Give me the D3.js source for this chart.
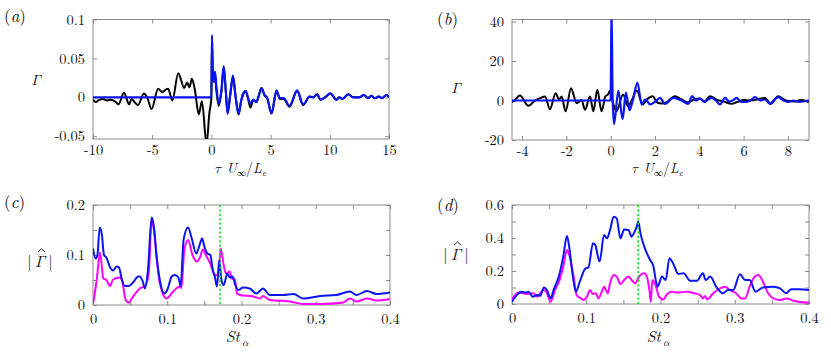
<!DOCTYPE html>
<html><head><meta charset="utf-8">
<script src="https://cdn.jsdelivr.net/npm/d3@7"></script>
<style>
html,body{margin:0;padding:0;background:#fff;}
svg{display:block;}
text{font-family:"Latin Modern Roman","Latin Modern Math","Liberation Serif",serif;fill:#111;}
</style></head>
<body>
<svg id="chart" width="831" height="358"></svg>
<script>
// ---------------- DATA ----------------
// Panel (a): correlation vs tau U/L
const aTauBlack = [-10,-9.75,-9.55,-9.2,-8.8,-8.5,-8.07,-7.85,-7.38,-6.95,-6.75,-6.5,-6.2,-5.7,-5.4,-5.05,-4.5,-4.15,-3.85,-3.65,-3.3,-2.8,-2.3,-2.05,-1.85,-1.65,-1.4,-1.07,-0.8,-0.41,-0.17,
  0,0.05,0.12,0.22,0.3,0.4,0.62,0.85,1.04,1.2,1.37,1.6,1.82,2.05,2.3,2.5,2.69,2.9,3.1,3.3,3.53,3.8,4.0,4.23,4.5,4.7,5.08,5.5,5.78,6.1,6.6,7.24,7.75,8.3,8.6,8.93,9.2,9.6,10.05,10.56,10.8,11.07,11.55,11.97,12.5,12.87,13.24,13.5,13.8,14.16,14.4,14.78,15];
const aBlack = [-0.003,-0.006,-0.004,-0.002,-0.004,-0.003,-0.006,-0.009,0.006,-0.009,-0.002,-0.006,-0.010,0.005,-0.001,-0.015,0.011,0.007,0.010,0.011,-0.004,0.031,0.012,0.019,0.013,0.024,0.010,-0.022,-0.005,-0.060,-0.020,
  0.0,0.070,0.030,0.020,0.030,0.012,-0.011,0.008,0.038,0.011,-0.020,0.004,0.026,0.000,-0.022,-0.006,0.004,0.008,-0.002,-0.013,-0.004,-0.006,0.002,0.012,0.002,-0.001,-0.020,0.008,-0.002,-0.002,-0.012,0.008,-0.010,0.001,0.000,0.004,-0.003,0.000,0.005,-0.003,0.000,-0.002,0.004,0.000,0.000,0.003,-0.001,0.002,-0.001,0.001,-0.001,0.003,0.000];
const aTauBlue = [-10,0,0.05,0.12,0.22,0.3,0.4,0.62,0.85,1.04,1.2,1.37,1.6,1.82,2.05,2.3,2.5,2.69,2.9,3.1,3.3,3.53,3.8,4.0,4.23,4.5,4.7,5.08,5.5,5.78,6.1,6.6,7.24,7.75,8.3,8.6,8.93,9.2,9.6,10.05,10.56,10.8,11.07,11.55,11.97,12.5,12.87,13.24,13.5,13.8,14.16,14.4,14.78,15];
const aBlue = [0,0,0.080,0.030,0.020,0.033,0.018,-0.008,0.010,0.040,0.012,-0.021,0.005,0.028,0.000,-0.021,-0.005,0.005,0.008,-0.001,-0.008,-0.003,-0.006,0.002,0.012,0.003,0.000,-0.021,0.009,-0.001,-0.001,-0.011,0.009,-0.009,0.001,0.000,0.004,-0.003,0.000,0.005,-0.003,0.000,-0.002,0.004,0.000,0.000,0.003,-0.001,0.002,-0.001,0.001,-0.001,0.003,0.000];

// Panel (b)
const bTauBlack = [-4.45,-4.39,-4.09,-3.71,-3.41,-3.18,-2.96,-2.74,-2.48,-2.32,-2.21,-2.03,-1.79,-1.53,-1.31,-1.16,-0.93,-0.78,-0.6,-0.41,-0.24,-0.11,-0.03,0.1,0.26,0.56,0.79,0.95,1.18,1.45,1.63,1.9,2.1,2.3,2.5,2.9,3.2,3.5,3.75,4.03,4.23,4.48,4.8,5.1,5.46,5.7,6.0,6.3,6.96,7.23,7.56,7.9,8.3,8.6,8.95];
const bBlack = [-0.8,-0.5,2.5,-2.7,0,1.2,2.0,-4.4,3.7,0.5,2,-5.5,6.2,-1.3,0.3,-4.7,2,-5.5,5.4,-5.5,2,3.2,5,-1,-5.5,3,-3,0,5,-2,0.5,2.2,-1,-1.5,-1.0,2.2,0.5,-1.0,0.5,1.0,-0.5,2.2,0.3,-0.5,-1.7,-0.8,0.2,0.0,1.3,-1.7,2.2,0,-0.5,0.3,-0.8];
const bTauBlue = [-4.45,0,0.04,0.09,0.15,0.35,0.54,0.69,0.85,1.0,1.21,1.40,1.55,1.63,1.78,2.0,2.23,2.45,2.83,3.2,3.5,3.68,3.85,4.03,4.23,4.4,4.56,4.75,4.93,5.16,5.35,5.5,5.68,5.88,6.1,6.3,6.51,6.75,6.96,7.19,7.35,7.56,7.8,8.0,8.25,8.5,8.7,8.95];
const bBlue = [0,0,48,2,-12,5,-9.5,4,-5,0,9,-2,0.5,0,-2,-0.7,1.3,-1.7,1.3,0,-1.7,2.2,0,1.0,-0.7,0.5,1.3,0,-2,1.3,-0.5,0,1.3,-0.7,-0.7,0,1.7,0,0.5,-1.7,0,1.7,0,-0.7,0,-0.7,-0.5,0];

// Panel (c): spectra
const cStBlue = [0,0.0036,0.006,0.009,0.012,0.0148,0.018,0.023,0.027,0.032,0.035,0.039,0.043,0.048,0.054,0.061,0.063,0.067,0.070,0.074,0.079,0.082,0.086,0.090,0.096,0.100,0.106,0.110,0.115,0.118,0.122,0.128,0.133,0.139,0.143,0.147,0.150,0.154,0.158,0.161,0.164,0.167,0.170,0.173,0.176,0.181,0.184,0.188,0.191,0.196,0.202,0.211,0.220,0.229,0.238,0.256,0.270,0.283,0.306,0.328,0.346,0.355,0.369,0.382,0.400];
const cBlue = [0.113,0.093,0.100,0.155,0.140,0.100,0.095,0.075,0.069,0.077,0.075,0.050,0.038,0.038,0.045,0.057,0.057,0.047,0.033,0.070,0.175,0.157,0.093,0.050,0.023,0.030,0.057,0.060,0.055,0.038,0.130,0.155,0.133,0.103,0.117,0.133,0.117,0.103,0.100,0.073,0.057,0.037,0.090,0.050,0.040,0.063,0.055,0.057,0.043,0.030,0.035,0.033,0.023,0.033,0.020,0.020,0.022,0.013,0.018,0.020,0.027,0.020,0.028,0.022,0.025];
const cStMag = [0,0.005,0.0094,0.014,0.018,0.023,0.027,0.036,0.039,0.044,0.048,0.054,0.063,0.070,0.075,0.079,0.082,0.086,0.090,0.099,0.108,0.117,0.119,0.123,0.128,0.134,0.140,0.144,0.148,0.152,0.158,0.164,0.169,0.172,0.176,0.179,0.184,0.187,0.191,0.194,0.198,0.216,0.225,0.229,0.238,0.265,0.283,0.306,0.337,0.346,0.355,0.369,0.382,0.400];
const cMag = [0.002,0.050,0.105,0.053,0.050,0.038,0.051,0.055,0.050,0.010,0.005,0.017,0.033,0.038,0.063,0.171,0.150,0.090,0.043,0.013,0.027,0.037,0.034,0.110,0.130,0.100,0.087,0.095,0.111,0.100,0.083,0.060,0.060,0.113,0.080,0.063,0.067,0.053,0.051,0.023,0.020,0.017,0.013,0.018,0.010,0.007,0.002,0.002,0.005,0.013,0.007,0.013,0.009,0.012];
const cStMark = 0.171;

// Panel (d)
const dStBlue = [0,0.0067,0.013,0.018,0.022,0.028,0.034,0.038,0.043,0.047,0.052,0.056,0.063,0.069,0.074,0.077,0.082,0.086,0.092,0.099,0.103,0.109,0.112,0.118,0.124,0.128,0.132,0.137,0.141,0.146,0.151,0.157,0.161,0.164,0.168,0.170,0.173,0.179,0.186,0.190,0.196,0.202,0.207,0.212,0.217,0.224,0.231,0.240,0.249,0.257,0.261,0.267,0.275,0.284,0.291,0.298,0.307,0.314,0.320,0.328,0.338,0.352,0.361,0.369,0.376,0.387,0.400];
const dBlue = [0.014,0.055,0.075,0.068,0.075,0.044,0.055,0.050,0.100,0.085,0.034,0.085,0.166,0.287,0.412,0.347,0.166,0.075,0.145,0.216,0.222,0.368,0.358,0.257,0.418,0.398,0.448,0.529,0.519,0.398,0.452,0.448,0.408,0.428,0.469,0.500,0.428,0.337,0.267,0.236,0.105,0.166,0.145,0.277,0.246,0.182,0.186,0.141,0.141,0.186,0.145,0.166,0.105,0.065,0.085,0.085,0.180,0.145,0.145,0.075,0.100,0.105,0.095,0.065,0.089,0.089,0.085];
const dStMag = [0,0.009,0.020,0.029,0.034,0.042,0.046,0.052,0.058,0.064,0.069,0.074,0.077,0.083,0.087,0.093,0.096,0.101,0.105,0.109,0.113,0.116,0.121,0.124,0.129,0.132,0.137,0.141,0.146,0.151,0.157,0.161,0.166,0.170,0.173,0.178,0.182,0.185,0.187,0.189,0.194,0.198,0.204,0.208,0.215,0.222,0.235,0.246,0.253,0.257,0.260,0.263,0.271,0.280,0.287,0.293,0.302,0.309,0.314,0.320,0.327,0.332,0.338,0.345,0.352,0.361,0.370,0.379,0.400];
const dMag = [0.028,0.069,0.061,0.065,0.044,0.085,0.075,0.014,0.085,0.145,0.226,0.327,0.297,0.166,0.055,0.034,0.024,0.044,0.085,0.060,0.065,0.034,0.075,0.105,0.065,0.125,0.176,0.166,0.121,0.145,0.166,0.145,0.125,0.156,0.176,0.186,0.160,0.085,0.014,0.145,0.105,0.044,0.028,0.055,0.075,0.069,0.075,0.065,0.055,0.034,0.048,0.028,0.065,0.095,0.105,0.085,0.065,0.034,0.034,0.105,0.166,0.176,0.135,0.065,0.034,0.024,0.034,0.020,0.008];
const dStMark = 0.170;

// Tick values and labels
const aXTicks = [-10,-5,0,5,10,15];
const aXLabels = ["-10","-5","0","5","10","15"];
const aYTicks = [-0.05,0,0.05,0.1];
const aYLabels = ["-0.05","0","0.05","0.1"];
const bXTicks = [-4,-2,0,2,4,6,8];
const bXLabels = ["-4","-2","0","2","4","6","8"];
const bYTicks = [-20,0,20,40];
const bYLabels = ["-20","0","20","40"];
const spXTicks = [0,0.05,0.1,0.15,0.2,0.25,0.3,0.35,0.4];
const spXLabels = ["0","","0.1","","0.2","","0.3","","0.4"];
const cYTicks = [0,0.05,0.1,0.15,0.2];
const cYLabels = ["0","","0.1","","0.2"];
const dYTicks = [0,0.1,0.2,0.3,0.4,0.5,0.6];
const dYLabels = ["0","","0.2","","0.4","","0.6"];

// ---------------- DRAWING ----------------
const svg = d3.select("#chart");
const AXIS = "#8a8a8a";
const FS = 14.5;
const FONT = '"Latin Modern Roman","Latin Modern Math","Liberation Serif",serif';

function panel(cfg){
  const x = d3.scaleLinear().domain(cfg.xd).range([cfg.l, cfg.r]);
  const y = d3.scaleLinear().domain(cfg.yd).range([cfg.b, cfg.t]);
  const g = svg.append("g");
  const id = "clip" + cfg.name;
  svg.append("clipPath").attr("id", id).append("rect")
    .attr("x", cfg.l).attr("y", cfg.t).attr("width", cfg.r - cfg.l).attr("height", cfg.b - cfg.t);

  const mk = (axis, tr) => {
    const a = g.append("g").attr("transform", tr).call(axis);
    a.select(".domain").remove();
    a.selectAll(".tick line").attr("stroke", AXIS).attr("stroke-width", 1);
    a.selectAll(".tick text").attr("font-size", FS).attr("fill", "#111").style("font-family", FONT);
    a.selectAll(".tick text").filter(function(){ return this.textContent === ""; }).remove();
    return a;
  };
  const fx = (d,i) => cfg.xLab[i];
  const fy = (d,i) => cfg.yLab[i];
  mk(d3.axisBottom(x).tickValues(cfg.xt).tickSizeInner(-4).tickSizeOuter(0).tickPadding(cfg.xpad).tickFormat(fx), `translate(0,${cfg.b})`);
  mk(d3.axisTop(x).tickValues(cfg.xt).tickSizeInner(-4).tickSizeOuter(0).tickFormat(""), `translate(0,${cfg.t})`);
  mk(d3.axisLeft(y).tickValues(cfg.yt).tickSizeInner(-4).tickSizeOuter(0).tickPadding(8).tickFormat(fy), `translate(${cfg.l},0)`);
  mk(d3.axisRight(y).tickValues(cfg.yt).tickSizeInner(-4).tickSizeOuter(0).tickFormat(""), `translate(${cfg.r},0)`);

  const plot = svg.append("g").attr("clip-path", `url(#${id})`);
  const line = d3.line().x(d => x(d[0])).y(d => y(d[1])).curve(d3.curveMonotoneX);
  cfg.series.forEach(s => {
    const pts = s.xs.map((v,i) => [v, s.ys[i]]);
    plot.append("path").attr("d", line(pts)).attr("fill", "none")
      .attr("stroke", s.color).attr("stroke-width", s.w).attr("stroke-linejoin","round");
  });
  if (cfg.mark !== undefined) {
    plot.append("line").attr("x1", x(cfg.mark)).attr("x2", x(cfg.mark))
      .attr("y1", cfg.t).attr("y2", cfg.b)
      .attr("stroke", "#11dd11").attr("stroke-width", 1.6).attr("stroke-dasharray", "2.2,2.2");
  }
  g.append("rect").attr("x", cfg.l).attr("y", cfg.t).attr("width", cfg.r - cfg.l).attr("height", cfg.b - cfg.t)
    .attr("fill", "none").attr("stroke", AXIS).attr("stroke-width", 1);
  return {x, y};
}

panel({name:"a", l:93, r:389, t:19.5, b:139, xd:[-10,15], yd:[-0.0535,0.1],
  xt:aXTicks, xLab:aXLabels, yt:aYTicks, yLab:aYLabels, xpad:6,
  series:[{xs:aTauBlack, ys:aBlack, color:"#000", w:2},{xs:aTauBlue, ys:aBlue, color:"#0a14f0", w:2.2}]});
panel({name:"b", l:512, r:809, t:19.5, b:140, xd:[-4.45,8.95], yd:[-20,41],
  xt:bXTicks, xLab:bXLabels, yt:bYTicks, yLab:bYLabels, xpad:6,
  series:[{xs:bTauBlack, ys:bBlack, color:"#000", w:2},{xs:bTauBlue, ys:bBlue, color:"#0a14f0", w:2.2}]});
panel({name:"c", l:93, r:390, t:205, b:305, xd:[0,0.4], yd:[0,0.2],
  xt:spXTicks, xLab:spXLabels, yt:cYTicks, yLab:cYLabels, xpad:9, mark:cStMark,
  series:[{xs:cStMag, ys:cMag, color:"#ff00ff", w:2},{xs:cStBlue, ys:cBlue, color:"#0a14f0", w:2}]});
panel({name:"d", l:512, r:809, t:205, b:304, xd:[0,0.4], yd:[0,0.6],
  xt:spXTicks, xLab:spXLabels, yt:dYTicks, yLab:dYLabels, xpad:9, mark:dStMark,
  series:[{xs:dStMag, ys:dMag, color:"#ff00ff", w:2},{xs:dStBlue, ys:dBlue, color:"#0a14f0", w:2}]});

// panel letters
function letter(x, y, ch){
  const t = svg.append("text").attr("x", x).attr("y", y).attr("font-size", 17);
  t.append("tspan").text("(");
  t.append("tspan").attr("font-style","italic").text(ch);
  t.append("tspan").text(")");
}
letter(4, 22, "a"); letter(437, 25, "b"); letter(4, 208, "c"); letter(437, 211, "d");

// y titles
function gammaTitle(x, y){
  svg.append("text").attr("x", x).attr("y", y).attr("font-size", 15).attr("font-style","italic")
    .attr("text-anchor","middle").text("\u0393");
}
gammaTitle(36, 85); gammaTitle(456, 93);
function gammaHat(cx, y){
  const t = svg.append("text").attr("x", cx).attr("y", y).attr("font-size", 16).attr("text-anchor","middle");
  t.append("tspan").text("|\u2009");
  t.append("tspan").attr("font-style","italic").text("\u0393");
  t.append("tspan").text("\u2009|");
  // circumflex accent drawn as a small stroke
  svg.append("path")
    .attr("d", `M${cx - 2},${y - 15} L${cx + 1.5},${y - 18} L${cx + 5},${y - 15}`)
    .attr("fill", "none").attr("stroke", "#111").attr("stroke-width", 0.9);
}
gammaHat(40, 267); gammaHat(456, 260);

// x titles
function tauTitle(cx, y){
  const t = svg.append("text").attr("x", cx).attr("y", y).attr("font-size", 14).attr("text-anchor","middle");
  t.append("tspan").attr("font-style","italic").text("\u03C4 U");
  t.append("tspan").attr("font-size", 9).attr("dy", 3).text("\u221E");
  t.append("tspan").attr("dy", -3).text("/");
  t.append("tspan").attr("font-style","italic").text("L");
  t.append("tspan").attr("font-size", 9).attr("font-style","italic").attr("dy", 3).text("c");
}
tauTitle(240, 173); tauTitle(657, 173);
function stTitle(cx, y){
  const t = svg.append("text").attr("x", cx).attr("y", y).attr("font-size", 16).attr("text-anchor","middle");
  t.append("tspan").attr("font-style","italic").text("St");
  t.append("tspan").attr("font-size", 10).attr("font-style","italic").attr("dx", 2).attr("dy", 4).text("\u03B1");
}
stTitle(237, 342); stTitle(658, 342);
</script>
</body></html>
